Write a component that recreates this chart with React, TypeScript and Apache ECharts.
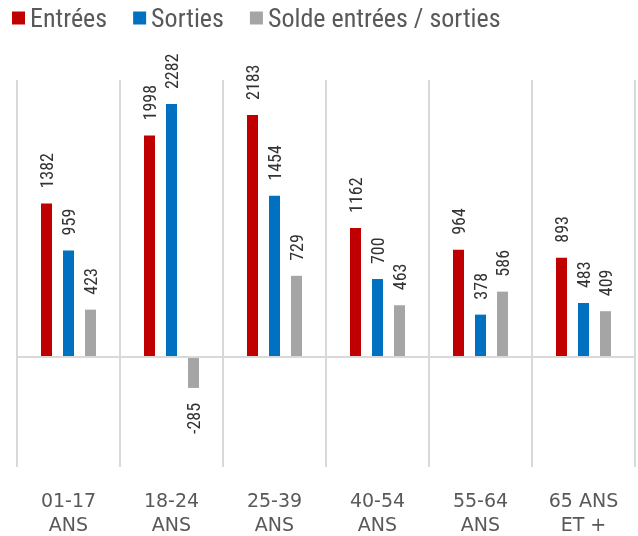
import React, { useEffect, useRef } from "react";
import * as echarts from "echarts";

const categories = ["01-17\nANS", "18-24\nANS", "25-39\nANS", "40-54\nANS", "55-64\nANS", "65 ANS\nET +"];
const entrees = [1382, 1998, 2183, 1162, 964, 893];
const sorties = [959, 2282, 1454, 700, 378, 483];
const solde = [423, -285, 729, 463, 586, 409];
const seriesNames = ["Entrées", "Sorties", "Solde entrées / sorties"];
const colors = ["#C00000", "#0070C0", "#A5A5A5"];

const FONT = "'Liberation Sans Narrow', 'Arial Narrow', 'Roboto Condensed', sans-serif";

export default function App() {
  const ref = useRef<HTMLDivElement>(null);
  useEffect(() => {
    if (!ref.current) return;
    const chart = echarts.init(ref.current, null, { renderer: "svg" });
    const posLabel = {
      show: true,
      position: "top",
      rotate: 90,
      align: "left",
      verticalAlign: "middle",
      distance: 15,
      fontSize: 18,
      color: "#333333",
      fontFamily: FONT,
    };
    const mk = (vals: number[]) =>
      vals.map((v) =>
        v < 0
          ? {
              value: v,
              label: { ...posLabel, position: "bottom", align: "right", distance: 15 },
            }
          : { value: v }
      );
    const datas = [entrees, sorties, solde];
    chart.setOption({
      animation: false,
      color: colors,
      legend: {
        left: 12,
        top: 5,
        padding: 0,
        icon: "rect",
        itemWidth: 13,
        itemHeight: 13,
        itemGap: 26,
        textStyle: { fontSize: 26, color: "#595959", fontFamily: FONT },
        data: seriesNames,
      },
      grid: { left: 17, right: 3, top: 80, bottom: 62 },
      xAxis: {
        type: "category",
        data: categories,
        axisLine: { show: false },
        axisTick: { show: false },
        splitLine: { show: true, lineStyle: { color: "#d9d9d9", width: 2 } },
        axisLabel: {
          margin: 21,
          fontSize: 19,
          lineHeight: 24,
          color: "#595959",
          fontFamily: "'DejaVu Sans', sans-serif",
          interval: 0,
        },
      },
      yAxis: {
        type: "value",
        min: -1000,
        max: 2500,
        show: false,
        splitLine: { show: false },
      },
      series: datas.map((d, i) => ({
        name: seriesNames[i],
        type: "bar",
        data: mk(d),
        barWidth: 11,
        barGap: "100%",
        label: posLabel,
        ...(i === 0
          ? {
              markLine: {
                silent: true,
                symbol: ["none", "none"],
                label: { show: false },
                lineStyle: { color: "#d9d9d9", type: "solid", width: 2 },
                data: [{ yAxis: 0 }],
              },
            }
          : {}),
      })),
    });
    return () => chart.dispose();
  }, []);
  return (
    <div
      ref={ref}
      style={{ position: "fixed", left: 0, top: 0, width: 638, height: 536 }}
    />
  );
}
